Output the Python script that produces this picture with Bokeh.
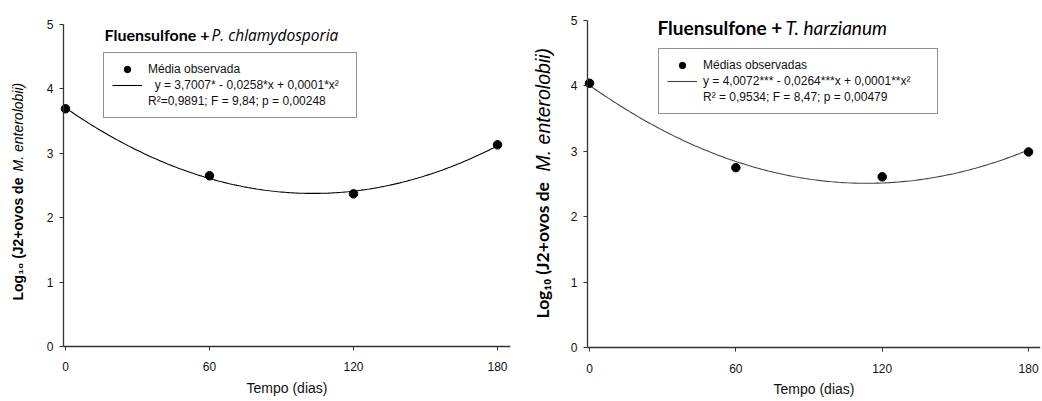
import numpy as np
from bokeh.plotting import figure
from bokeh.layouts import row
from bokeh.models import Label, Legend, LegendItem, Range1d, FixedTicker
from bokeh.embed import file_html
from bokeh.resources import INLINE

# ---- data ----
dias = [0, 60, 120, 180]
log_pc = [3.69, 2.65, 2.37, 3.13]   # Fluensulfone + P. chlamydosporia
log_th = [4.04, 2.75, 2.61, 2.99]   # Fluensulfone + T. harzianum
x_ticks = [0, 60, 120, 180]
y_ticks = [0, 1, 2, 3, 4, 5]
eq_pc = ["  y = 3,7007* - 0,0258*x + 0,0001*x²", "R²=0,9891; F = 9,84; p = 0,00248"]
eq_th = ["y = 4,0072*** - 0,0264***x + 0,0001**x²", "R² = 0,9534; F = 8,47; p = 0,00479"]

FONT = "Liberation Sans"


def make_panel(w, br, xr, yr, yaxis_x, xs, ys, title_bold, title_it, title_size, it_font, it_size_t,
               title_xy, it_dx, point_label, eq_label, legend_loc, label_width, line_color,
               ylab_font, ylab_size, it_size, ylab_x, ylab_y1, ylab_y2):
    p = figure(width=w, height=401, output_backend="svg", toolbar_location=None,
               x_range=Range1d(*xr), y_range=Range1d(*yr),
               min_border_left=0, min_border_right=br,
               min_border_top=2, min_border_bottom=2)
    p.outline_line_color = None
    p.grid.visible = False

    coef = np.polyfit(xs, ys, 2)
    xf = np.linspace(min(xs), max(xs), 200)
    yf = np.polyval(coef, xf)
    ln = p.line(xf, yf, line_color=line_color, line_width=1.1)
    sc = p.scatter(xs, ys, size=8.5, fill_color="black", line_color="black")
    ghost = p.line([], [], line_alpha=0)

    p.yaxis.fixed_location = yaxis_x
    p.xaxis.fixed_location = 0
    p.yaxis.bounds = (0, 5)
    p.xaxis.bounds = (yaxis_x, xr[1])
    for ax in (p.xaxis[0], p.yaxis[0]):
        ax.axis_line_color = "#333333"
        ax.axis_line_width = 1.3
        ax.major_tick_line_color = "#333333"
        ax.major_tick_out = 4
        ax.major_tick_in = 0
        ax.minor_tick_line_color = None
        ax.major_label_text_font = FONT
        ax.major_label_text_font_size = "12px"
        ax.major_label_text_color = "#111111"
    p.xaxis.ticker = FixedTicker(ticks=x_ticks)
    p.yaxis.ticker = FixedTicker(ticks=y_ticks)
    p.xaxis.major_label_standoff = 12
    p.yaxis.major_label_standoff = 6
    p.xaxis.axis_label = "Tempo (dias)"
    p.xaxis.axis_label_text_font = FONT
    p.xaxis.axis_label_text_font_size = "14px"
    p.xaxis.axis_label_text_font_style = "normal"
    p.xaxis.axis_label_text_color = "#111111"
    p.xaxis.axis_label_standoff = 5

    leg = Legend(items=[LegendItem(label=point_label, renderers=[sc]),
                        LegendItem(label=eq_label[0], renderers=[ln]),
                        LegendItem(label=eq_label[1], renderers=[ghost])],
                 location=legend_loc)
    leg.label_text_font = FONT
    leg.label_text_font_size = "12px"
    leg.label_text_color = "#111111"
    leg.border_line_color = "#222222"
    leg.border_line_width = 1
    leg.glyph_width = 30
    leg.glyph_height = 16
    leg.label_height = 15
    leg.label_standoff = 6
    leg.label_width = label_width
    leg.spacing = 0
    leg.padding = 8
    leg.margin = 0
    p.add_layout(leg)

    tx, ty = title_xy
    t1 = Label(x=tx, y=ty, x_units="screen", y_units="screen", text=title_bold,
               text_font="Lato", text_font_style="bold", text_font_size=title_size,
               text_color="black", text_baseline="middle")
    t2 = Label(x=tx + it_dx, y=ty, x_units="screen", y_units="screen",
               text=title_it, text_font=it_font, text_font_style="italic",
               text_font_size=it_size_t, text_color="black", text_baseline="middle")
    p.add_layout(t1)
    p.add_layout(t2)

    l1 = Label(x=ylab_x, y=ylab_y1, x_units="screen", y_units="screen",
               text="Log₁₀ (J2+ovos de", angle=np.pi / 2, text_font=ylab_font,
               text_font_style="bold", text_font_size=ylab_size, text_color="black",
               text_baseline="middle", text_align="left")
    l2 = Label(x=ylab_x, y=ylab_y2, x_units="screen", y_units="screen",
               text="M. enterolobii)", angle=np.pi / 2, text_font=FONT,
               text_font_style="italic", text_font_size=it_size, text_color="black",
               text_baseline="middle", text_align="left")
    p.add_layout(l1)
    p.add_layout(l2)
    return p


# left panel: 0 -> x=65px, 180 -> 497px (2.4 px/unit); 0 -> y=346, 5 -> y=24 (64.4 px/unit)
# frame spans canvas y 2..399, x 0..510  (screen y measured from canvas y=399)
p1 = make_panel(520, 10, (-27.08, 185.4), (-0.823, 5.34), -0.83, dias, log_pc,
                "Fluensulfone +", "P. chlamydosporia", "16px", "Open Sans", "15.5px",
                (104, 399 - 34), 107,
                "Média observada", eq_pc, (103, 399 - 118), 200, "black", FONT, "14px", "14px",
                17, 399 - 300, 399 - 171)
# right panel: 0 -> x=69px, 180 -> 508px (2.439 px/unit); 0 -> y=347, 5 -> y=20 (65.4 px/unit)
p2 = make_panel(522, 2, (-28.3, 184.9), (-0.795, 5.275), -0.82, dias, log_th,
                "Fluensulfone +", "T. harzianum", "19px", "Lato", "19px", (137, 399 - 27), 128,
                "Médias observadas", eq_th, (138, 399 - 114), 226, "#444444", "Lato", "17.5px",
                "19.5px", 22, 399 - 318, 399 - 171)

layout = row(p1, p2)
open("out.html", "w").write(file_html(layout, INLINE))
